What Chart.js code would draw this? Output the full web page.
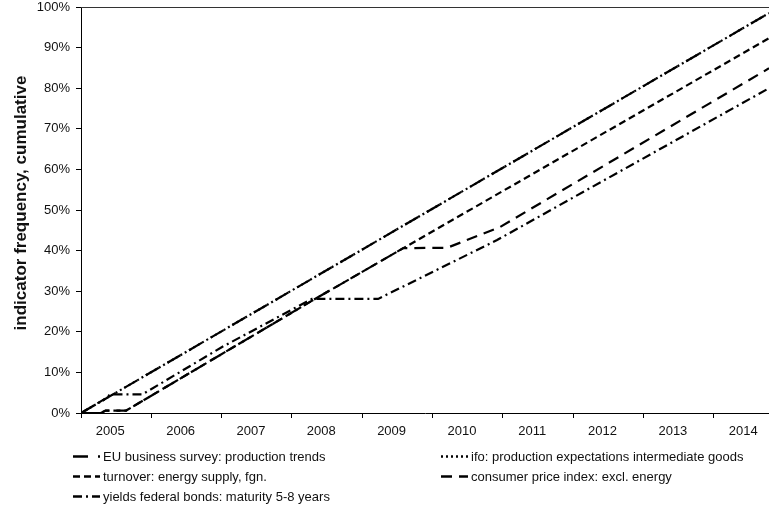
<!DOCTYPE html>
<html>
<head>
<meta charset="utf-8">
<script src="https://cdn.jsdelivr.net/npm/chart.js@4/dist/chart.umd.min.js"></script>
<style>
  html, body { margin: 0; padding: 0; background: #fff; }
  #wrap { width: 769px; height: 508px; position: relative; }
</style>
</head>
<body>
<div id="wrap"><canvas id="c" width="769" height="508"></canvas></div>
<script>
// x values are months since January 2005; y values are cumulative frequency in percent
const lastMonth = 117.4;
const yearLabels = ['2005', '2006', '2007', '2008', '2009', '2010', '2011', '2012', '2013', '2014'];
const yTickValues = [0, 10, 20, 30, 40, 50, 60, 70, 80, 90, 100];
const yAxisTitle = 'indicator frequency, cumulative';

const euMonths = [0, 117.4];
const euValues = [0, 98.5];

const ifoMonths = [0, 117.4];
const ifoValues = [0, 98.5];

const turnoverMonths = [0, 3.4, 4.2, 7.7, 39, 55, 117.4];
const turnoverValues = [0, 0, 0.6, 0.6, 27.3, 40.6, 92.3];

const cpiMonths = [0, 3.4, 4.2, 7.7, 39, 55, 62.5, 71.5, 117.4];
const cpiValues = [0, 0, 0.6, 0.6, 27.3, 40.6, 40.7, 45.8, 84.9];

const yieldsMonths = [0, 4, 5, 10.5, 24, 39.4, 50.7, 71, 117.4];
const yieldsValues = [0, 3.4, 4.6, 4.6, 16.2, 28.1, 28.1, 42.6, 80];

const seriesNames = [
  'EU business survey: production trends',
  'ifo: production expectations intermediate goods',
  'turnover: energy supply, fgn.',
  'consumer price index: excl. energy',
  'yields federal bonds: maturity 5-8 years'
];

function pts(xs, ys) { return xs.map((x, i) => ({ x: x, y: ys[i] })); }

const FONT = '"Liberation Sans", Arial, Helvetica, sans-serif';
const INK = '#111';

const series = [
  { label: seriesNames[0], data: pts(euMonths, euValues), dash: [15, 10] },
  { label: seriesNames[1], data: pts(ifoMonths, ifoValues), dash: [2, 3] },
  { label: seriesNames[2], data: pts(turnoverMonths, turnoverValues), dash: [7, 4] },
  { label: seriesNames[3], data: pts(cpiMonths, cpiValues), dash: [11, 7] },
  { label: seriesNames[4], data: pts(yieldsMonths, yieldsValues), dash: [9, 4, 2, 4] }
];

// legend slots: [column x, row y]
const legendSlots = [[73, 456], [441, 456], [73, 476], [441, 476], [73, 496]];

const frameAndLegend = {
  id: 'frameAndLegend',
  afterDraw(chart) {
    const ctx = chart.ctx;
    const a = chart.chartArea;
    ctx.save();
    // top border of the plot box
    ctx.strokeStyle = '#333';
    ctx.lineWidth = 1;
    ctx.setLineDash([]);
    ctx.beginPath();
    ctx.moveTo(a.left, a.top + 0.5);
    ctx.lineTo(a.right, a.top + 0.5);
    ctx.stroke();

    // rotated y-axis title
    ctx.save();
    ctx.translate(21, 203);
    ctx.rotate(-Math.PI / 2);
    ctx.font = 'bold 17px ' + FONT;
    ctx.fillStyle = INK;
    ctx.textAlign = 'center';
    ctx.textBaseline = 'middle';
    ctx.fillText(yAxisTitle, 0, 0);
    ctx.restore();

    // legend in two columns
    ctx.font = '13px ' + FONT;
    ctx.textBaseline = 'middle';
    ctx.textAlign = 'left';
    ctx.fillStyle = INK;
    series.forEach((s, i) => {
      const [x, y] = legendSlots[i];
      ctx.strokeStyle = '#000';
      ctx.lineWidth = 2.5;
      ctx.lineCap = 'butt';
      ctx.setLineDash(s.dash);
      ctx.beginPath();
      ctx.moveTo(x, y + 0.5);
      ctx.lineTo(x + 27, y + 0.5);
      ctx.stroke();
      ctx.setLineDash([]);
      ctx.fillText(s.label, x + 30, y + 1);
    });
    ctx.restore();
  }
};

const xTickValues = [];
yearLabels.forEach((_, i) => { xTickValues.push(i * 12); xTickValues.push(i * 12 + 5); });

new Chart(document.getElementById('c'), {
  type: 'line',
  data: {
    datasets: series.map(s => ({
      label: s.label,
      data: s.data,
      borderColor: '#000',
      borderWidth: 2.2,
      borderDash: s.dash,
      borderCapStyle: 'butt',
      pointRadius: 0,
      tension: 0,
      fill: false
    }))
  },
  options: {
    responsive: false,
    animation: false,
    devicePixelRatio: 1,
    layout: { padding: { left: 0, right: 0, top: 7, bottom: 70 } },
    plugins: { legend: { display: false }, tooltip: { enabled: false } },
    scales: {
      x: {
        type: 'linear',
        min: 0,
        max: lastMonth,
        afterBuildTicks(scale) { scale.ticks = xTickValues.map(v => ({ value: v })); },
        afterFit(scale) { scale.height = 25; scale.paddingLeft = 0; scale.paddingRight = 0; },
        ticks: {
          autoSkip: false,
          maxRotation: 0,
          minRotation: 0,
          padding: 6,
          color: INK,
          font: { family: FONT, size: 13 },
          callback(value) { return value % 12 === 0 ? '' : yearLabels[Math.floor(value / 12)]; }
        },
        grid: {
          drawOnChartArea: false,
          drawTicks: true,
          tickLength: 5,
          tickColor(ctx) { return ctx.tick && ctx.tick.value % 12 === 0 ? '#000' : 'rgba(0,0,0,0)'; }
        },
        border: { display: true, color: '#000', width: 1 }
      },
      y: {
        min: 0,
        max: 100,
        afterBuildTicks(scale) { scale.ticks = yTickValues.map(v => ({ value: v })); },
        afterFit(scale) { scale.width = 81; scale.paddingTop = 0; scale.paddingBottom = 0; },
        ticks: {
          padding: 6,
          color: INK,
          font: { family: FONT, size: 13 },
          callback(value) { return value + '%'; }
        },
        grid: { drawOnChartArea: false, drawTicks: true, tickLength: 5, tickColor: '#000' },
        border: { display: true, color: '#000', width: 1 }
      }
    }
  },
  plugins: [frameAndLegend]
});
</script>
</body>
</html>
